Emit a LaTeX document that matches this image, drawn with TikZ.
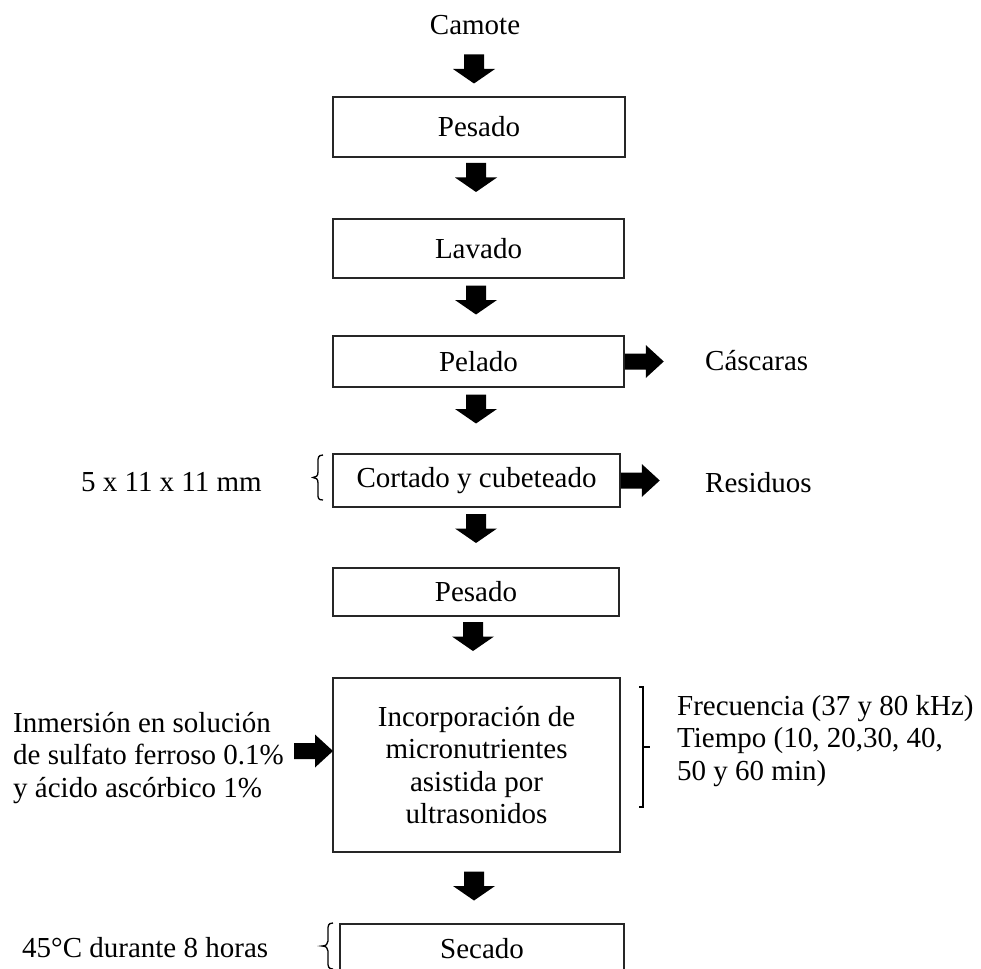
\documentclass[tikz,border=0pt]{standalone}
\usepackage{fontspec}
\setmainfont{Liberation Serif}
\begin{document}
\begin{tikzpicture}[x=1pt,y=-1pt,
  every node/.style={font=\fontsize{29}{32.5}\selectfont, inner sep=0pt},
  stepbox/.style={draw=black!85, line width=1.5pt, rectangle},
  txt/.style={align=left},
  darr/.pic={\fill (-10,-14.5) -- (10,-14.5) -- (10,0) -- (21,0) -- (0,14.5) -- (-21,0) -- (-10,0) -- cycle;},
  rarr/.pic={\fill (0,-8) -- (21,-8) -- (21,-16.5) -- (39,0) -- (21,16.5) -- (21,8) -- (0,8) -- cycle;},
  brk/.style={line width=1.3pt}
]
\useasboundingbox (0,0) rectangle (981,968);
\clip (0,0) rectangle (981,968);

% main boxes
\node (camote) at (475,25) {Camote};
\node[stepbox, minimum width=292pt, minimum height=60pt] (pes1) at (479,127) {Pesado};
\node[stepbox, minimum width=291pt, minimum height=59pt] (lav) at (478.5,248.5) {Lavado};
\node[stepbox, minimum width=291pt, minimum height=51pt] (pel) at (478.5,361.5) {Pelado};
\node[stepbox, minimum width=287pt, minimum height=53pt] (cor) at (476.5,480.5) {Cortado y cubeteado};
\node[stepbox, minimum width=286pt, minimum height=48pt] (pes2) at (476,592) {Pesado};
\node[stepbox, minimum width=287pt, minimum height=174pt, align=center] (inc) at (476.5,765) {Incorporación de\\micronutrientes\\asistida por\\ultrasonidos};
\node[stepbox, minimum width=284pt, minimum height=50pt] (sec) at (482,949) {Secado};

% side texts
\node[anchor=west] (casc) at (705,361) {Cáscaras};
\node[anchor=west] (resid) at (705,483) {Residuos};
\node[anchor=east] (dim) at (262,482) {5 x 11 x 11 mm};
\node[txt, anchor=west] (inm) at (13,758) {Inmersión en solución\\de sulfato ferroso 0.1\%\\y ácido ascórbico 1\%};
\node[txt, anchor=west] (frec) at (677,741) {Frecuencia (37 y 80 kHz)\\Tiempo (10, 20,30, 40,\\50 y 60 min)};
\node[anchor=west] (temp) at (22,948) {45°C durante 8 horas};

% block arrows (down)
\pic at (474,69) {darr};
\pic at (476,177.5) {darr};
\pic at (476,300) {darr};
\pic at (476,409) {darr};
\pic at (476,528.5) {darr};
\pic at (473,636.5) {darr};
\pic at (474,886) {darr};

% block arrows (right)
\pic at (pel.east) {rarr};
\pic at (cor.east) {rarr};
\pic at (294,751) {rarr};

% braces
\draw[brk] (323,455) .. controls (318,455) and (318,458) .. (318,462) -- (318,472)
  .. controls (318,476) and (316,477.5) .. (313,477.5)
  .. controls (316,477.5) and (318,479) .. (318,483) -- (318,494)
  .. controls (318,498) and (318,500) .. (323,500);
\draw[brk] (333,923) .. controls (328,923) and (328,926) .. (328,930) -- (328,941)
  .. controls (328,944) and (326,946) .. (322,946)
  .. controls (326,946) and (328,948) .. (328,951) -- (328,962)
  .. controls (328,966) and (328,969) .. (333,969);
\draw[brk] (639,687) -- (643,687) -- (643,807) -- (639,807);
\draw[brk] (643,747) -- (650,747);
\end{tikzpicture}
\end{document}
